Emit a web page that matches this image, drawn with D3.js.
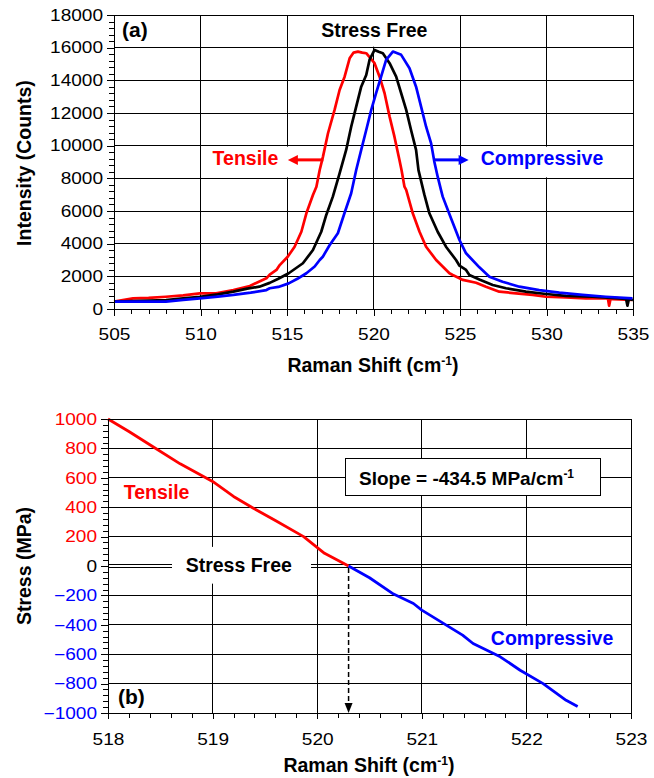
<!DOCTYPE html>
<html><head><meta charset="utf-8">
<script src="https://cdn.jsdelivr.net/npm/d3@7"></script>
<style>
body{margin:0;background:#fff;}
svg{display:block;font-family:"Liberation Sans",Arial,Helvetica,sans-serif;}
</style></head><body>
<svg id="chart" width="654" height="778"></svg>
<script>
// ---------------- DATA ----------------
// Panel (a): Raman spectra
const tensileShift = [505.0,506.1,507.0,508.0,509.0,509.96,510.9,511.9,512.85,513.81,514.0,514.39,514.58,515.04,515.44,515.83,516.12,516.5,516.7,516.89,517.08,517.37,517.75,518.04,518.33,518.62,518.85,519.1,519.35,519.58,520.06,520.35,520.64,520.93,521.21,521.5,521.62,521.79,521.89,522.27,522.66,523.04,523.62,524.39,524.58,524.97,525.16,525.93,526.5,527.27,528.24,529.2,529.97,531.12,532.28,533.43,533.55,533.62,533.7,533.81,534.97];
const tensileIntensity = [450,650,680,750,830,960,960,1160,1410,1880,2100,2390,2690,3200,3815,4730,5860,6980,7490,8510,9330,10760,12190,13410,14225,15350,15700,15760,15700,15660,15050,14225,13210,11780,10550,9120,8510,7490,7290,5860,4730,3815,3000,2190,2080,1880,1780,1610,1365,1060,960,860,750,715,650,650,640,200,620,610,550];

const freeShift = [505.0,506.5,508.0,509.0,509.96,511.0,511.9,512.7,513.4,514.0,514.5,515.1,515.92,516.5,516.98,517.27,517.65,518.04,518.42,518.71,519.0,519.29,519.58,519.77,520.06,520.3,520.54,520.93,521.31,521.6,521.89,522.17,522.46,522.6,522.94,523.23,523.71,524.19,524.77,524.97,525.35,525.54,526.12,526.89,527.66,528.81,529.97,531.12,532.66,534.2,534.6,534.68,534.76,535.0];
const freeIntensity = [450,500,550,650,750,900,1060,1250,1365,1600,1850,2190,2800,3610,4730,5760,6880,8300,9740,11160,12390,13610,14330,15250,15860,15750,15660,15050,14225,13210,12190,10960,9740,8500,7000,5860,4730,3815,3000,2650,2390,2080,1800,1470,1270,1060,920,800,750,650,620,200,600,550];

const compressiveShift = [505.0,506.5,508.0,509.0,509.96,511.0,511.9,512.9,513.81,514.0,514.5,515.1,515.6,516.12,516.6,516.89,517.07,517.46,517.94,518.32,518.71,519.0,519.29,519.58,519.87,520.15,520.44,520.73,521.12,521.6,522.08,522.46,522.75,523.04,523.33,523.52,523.71,523.9,524.0,524.48,524.97,525.35,525.54,526.12,526.7,527.46,528.43,529.58,530.74,532.08,533.43,534.97];
const compressiveIntensity = [450,450,450,560,650,760,860,1000,1160,1270,1350,1570,1850,2190,2600,3000,3200,3900,4640,5860,7085,8510,9740,10960,12190,13210,14225,15250,15760,15560,14740,13610,12390,11160,10140,9000,8100,7290,6880,5550,4225,3410,3200,2550,1980,1670,1365,1160,1000,860,750,650];

const shiftTicksA = [505,510,515,520,525,530,535];
const intensityTicks = [0,2000,4000,6000,8000,10000,12000,14000,16000,18000];

// Panel (b): stress vs Raman shift
const tensileLineShift = [518.0,518.2,518.4,518.69,519.0,519.2,519.39,519.6,519.87,520.07,520.3];
const tensileLineStress = [1000,915,825,695,575,473,393,309,200,86,0];
const compressiveLineShift = [520.3,520.5,520.73,520.92,521.0,521.39,521.49,521.75,521.94,522.16,522.38,522.49];
const compressiveLineStress = [0,-80,-191,-255,-300,-470,-527,-618,-709,-800,-914,-955];

const shiftTicksB = [518,519,520,521,522,523];
const stressTicks = [-1000,-800,-600,-400,-200,0,200,400,600,800,1000];
const stressFreeShift = 520.3;
const slopeText = "Slope = -434.5 MPa/cm";

// ---------------- DRAW ----------------
const RED = "#ff0000", BLUE = "#0000ff", BLACK = "#000";
const SX = 1.17;          // horizontal stretch of tick labels
const TICKFONT = 16.3;
const BOLD = 19.5;
const svg = d3.select("#chart");
svg.append("rect").attr("width",654).attr("height",778).attr("fill","#fff");

function zip(xs, ys){ return xs.map((x,i)=>[x, ys[i]]); }
function minorRange(a,b,step,majors){
  const out=[]; for(let v=a; v<=b+1e-9; v+=step){ const r=Math.round(v*1000)/1000; if(!majors.some(m=>Math.abs(m-r)<1e-6)) out.push(r);} return out;
}
function cleanAxis(g){
  g.select(".domain").remove();
  g.selectAll("line").attr("stroke",BLACK).attr("stroke-width",1).attr("shape-rendering","crispEdges");
  g.selectAll("text").attr("font-size",TICKFONT).attr("fill",BLACK).attr("font-family",'"Liberation Sans",Arial,sans-serif');
}
function arrowH(g, x1, x2, y, color){
  const dir = Math.sign(x2-x1), head = 10, hw = 5;
  g.append("line").attr("x1",x1).attr("x2",x2-dir*head+dir*1).attr("y1",y).attr("y2",y)
    .attr("stroke",color).attr("stroke-width",3);
  g.append("path").attr("d",`M${x2},${y} L${x2-dir*head},${y-hw} L${x2-dir*head},${y+hw} Z`).attr("fill",color);
}
function titleWithSup(g, x, y, main, sup, tail, size){
  const t = g.append("text").attr("x",x).attr("y",y).attr("text-anchor","middle")
    .attr("font-weight","bold").attr("font-size",size).attr("fill",BLACK);
  t.append("tspan").text(main);
  t.append("tspan").attr("dy",-7).attr("font-size",size*0.62).text(sup);
  t.append("tspan").attr("dy",7).text(tail);
  return t;
}

// ===== Panel (a) =====
const xA = d3.scaleLinear().domain([505,535]).range([114,633]);
const yA = d3.scaleLinear().domain([0,18000]).range([309,15]);
const gA = svg.append("g");

gA.append("g").attr("shape-rendering","crispEdges").selectAll("line").data(shiftTicksA).join("line")
  .attr("x1",d=>xA(d)).attr("x2",d=>xA(d)).attr("y1",yA(0)).attr("y2",yA(18000))
  .attr("stroke",BLACK).attr("stroke-width",1);
gA.append("g").attr("shape-rendering","crispEdges").selectAll("line").data(intensityTicks).join("line")
  .attr("x1",xA(505)).attr("x2",xA(535)).attr("y1",d=>yA(d)).attr("y2",d=>yA(d))
  .attr("stroke",BLACK).attr("stroke-width",1);

// label boxes (white)
gA.append("rect").attr("x",xA(515)+1).attr("y",yA(18000)+1).attr("width",xA(525)-xA(515)-2).attr("height",yA(16000)-yA(18000)-2).attr("fill","#fff");
gA.append("rect").attr("x",xA(510.3)).attr("y",yA(10000)+1).attr("width",xA(515.3)-xA(510.3)).attr("height",yA(8000)-yA(10000)-2).attr("fill","#fff");
gA.append("rect").attr("x",xA(525.4)).attr("y",yA(10000)+1).attr("width",xA(534.5)-xA(525.4)).attr("height",yA(8000)-yA(10000)-2).attr("fill","#fff");

// axes
const axA_x = gA.append("g").attr("transform",`translate(0,${yA(0)})`)
  .call(d3.axisBottom(xA).tickValues(shiftTicksA).tickSize(7).tickPadding(12).tickFormat(d3.format("d"))).call(cleanAxis);
axA_x.selectAll("text").attr("transform",`scale(${SX},1)`);
gA.append("g").attr("transform",`translate(0,${yA(0)})`)
  .call(d3.axisBottom(xA).tickValues(minorRange(505,535,1,shiftTicksA)).tickSize(5).tickFormat("")).call(cleanAxis);
const axA_y = gA.append("g").attr("transform",`translate(${xA(505)},0)`)
  .call(d3.axisLeft(yA).tickValues(intensityTicks).tickSize(7).tickPadding(4).tickFormat(d3.format("d"))).call(cleanAxis);
axA_y.selectAll("text").attr("x",-11/SX).attr("transform",`scale(${SX},1)`);
gA.append("g").attr("transform",`translate(${xA(505)},0)`)
  .call(d3.axisLeft(yA).tickValues(minorRange(0,18000,400,intensityTicks)).tickSize(5).tickFormat("")).call(cleanAxis);

// curves
const lineA = d3.line().x(d=>xA(d[0])).y(d=>yA(d[1]));
[[tensileShift,tensileIntensity,RED],[freeShift,freeIntensity,BLACK],[compressiveShift,compressiveIntensity,BLUE]].forEach(([xs,ys,c])=>{
  gA.append("path").datum(zip(xs,ys)).attr("d",lineA).attr("fill","none")
    .attr("stroke",c).attr("stroke-width",2.7).attr("stroke-linejoin","round");
});

// border
gA.append("rect").attr("x",xA(505)).attr("y",yA(18000)).attr("width",xA(535)-xA(505)).attr("height",yA(0)-yA(18000))
  .attr("fill","none").attr("stroke",BLACK).attr("stroke-width",1).attr("shape-rendering","crispEdges");

// annotations
gA.append("text").attr("x",122).attr("y",37).attr("font-size",21).attr("font-weight","bold").attr("fill",BLACK).text("(a)");
gA.append("text").attr("x",xA(520.05)).attr("y",yA(16650)).attr("text-anchor","middle").attr("font-size",BOLD).attr("font-weight","bold").attr("fill",BLACK).text("Stress Free");
gA.append("text").attr("x",xA(514.5)).attr("y",yA(8810)).attr("text-anchor","end").attr("font-size",BOLD).attr("font-weight","bold").attr("fill",RED).text("Tensile");
arrowH(gA, xA(517.1), xA(515.05), yA(9130), RED);
gA.append("text").attr("x",xA(526.2)).attr("y",yA(8810)).attr("text-anchor","start").attr("font-size",BOLD).attr("font-weight","bold").attr("fill",BLUE).text("Compressive");
arrowH(gA, xA(523.45), xA(525.5), yA(9130), BLUE);

titleWithSup(gA, 373, 372, "Raman Shift (cm", "-1", ")", BOLD);
gA.append("text").attr("transform","translate(30.5,163) rotate(-90)").attr("text-anchor","middle")
  .attr("font-size",BOLD).attr("font-weight","bold").attr("fill",BLACK).text("Intensity (Counts)");

// ===== Panel (b) =====
const xB = d3.scaleLinear().domain([518,523]).range([108,631]);
const yB = d3.scaleLinear().domain([-1000,1000]).range([713,419]);
const gB = svg.append("g");

gB.append("g").attr("shape-rendering","crispEdges").selectAll("line").data(shiftTicksB).join("line")
  .attr("x1",d=>xB(d)).attr("x2",d=>xB(d)).attr("y1",yB(-1000)).attr("y2",yB(1000))
  .attr("stroke",BLACK).attr("stroke-width",1);
gB.append("g").attr("shape-rendering","crispEdges").selectAll("line").data(stressTicks.filter(d=>d!==0)).join("line")
  .attr("x1",xB(518)).attr("x2",xB(523)).attr("y1",d=>yB(d)).attr("y2",d=>yB(d))
  .attr("stroke",BLACK).attr("stroke-width",1);

// white label boxes
gB.append("rect").attr("x",xB(518.61)).attr("y",yB(130)).attr("width",xB(519.94)-xB(518.61)).attr("height",yB(-120)-yB(130)).attr("fill","#fff");
gB.append("rect").attr("x",xB(521.54)).attr("y",yB(-400)+1).attr("width",xB(523)-xB(521.54)-1).attr("height",yB(-600)-yB(-400)-2).attr("fill","#fff");

// double zero line (stress free)
[[518,518.61],[519.94,523]].forEach(([a,b])=>{
  [-1.5,1.5].forEach(off=>{
    gB.append("line").attr("x1",xB(a)).attr("x2",xB(b)).attr("y1",yB(0)+off).attr("y2",yB(0)+off)
      .attr("stroke",BLACK).attr("stroke-width",1).attr("shape-rendering","crispEdges");
  });
});

// axes
const axB_x = gB.append("g").attr("transform",`translate(0,${yB(-1000)})`)
  .call(d3.axisBottom(xB).tickValues(shiftTicksB).tickSize(6).tickPadding(14).tickFormat(d3.format("d"))).call(cleanAxis);
axB_x.selectAll("text").attr("transform",`scale(${SX},1)`);
gB.append("g").attr("transform",`translate(0,${yB(-1000)})`)
  .call(d3.axisBottom(xB).tickValues(minorRange(518,523,0.2,shiftTicksB)).tickSize(5).tickFormat("")).call(cleanAxis);
const axB_y = gB.append("g").attr("transform",`translate(${xB(518)},0)`)
  .call(d3.axisLeft(yB).tickValues(stressTicks).tickSize(7).tickPadding(4).tickFormat(d3.format("d"))).call(cleanAxis);
axB_y.selectAll("text").attr("x",-11/SX).attr("transform",`scale(${SX},1)`)
  .attr("fill",d=>d>0?RED:(d<0?BLUE:BLACK));
gB.append("g").attr("transform",`translate(${xB(518)},0)`)
  .call(d3.axisLeft(yB).tickValues(minorRange(-1000,1000,40,stressTicks)).tickSize(5).tickFormat("")).call(cleanAxis);

// dashed arrow from stress-free point to axis
gB.append("line").attr("x1",xB(stressFreeShift)).attr("x2",xB(stressFreeShift)).attr("y1",yB(0)+2).attr("y2",yB(-1000)-9)
  .attr("stroke",BLACK).attr("stroke-width",1.5).attr("stroke-dasharray","5,3");
gB.append("path").attr("d",`M${xB(stressFreeShift)},${yB(-1000)} l-4,-10 l8,0 Z`).attr("fill",BLACK);

// lines
const lineB = d3.line().x(d=>xB(d[0])).y(d=>yB(d[1]));
gB.append("path").datum(zip(tensileLineShift,tensileLineStress)).attr("d",lineB).attr("fill","none")
  .attr("stroke",RED).attr("stroke-width",2.8).attr("stroke-linejoin","round");
gB.append("path").datum(zip(compressiveLineShift,compressiveLineStress)).attr("d",lineB).attr("fill","none")
  .attr("stroke",BLUE).attr("stroke-width",2.8).attr("stroke-linejoin","round");

// border
gB.append("rect").attr("x",xB(518)).attr("y",yB(1000)).attr("width",xB(523)-xB(518)).attr("height",yB(-1000)-yB(1000))
  .attr("fill","none").attr("stroke",BLACK).attr("stroke-width",1).attr("shape-rendering","crispEdges");

// slope box
gB.append("rect").attr("x",xB(520.27)).attr("y",yB(728)).attr("width",xB(522.71)-xB(520.27)).attr("height",yB(477)-yB(728))
  .attr("fill","#fff").attr("stroke",BLACK).attr("stroke-width",1).attr("shape-rendering","crispEdges");
const st = gB.append("text").attr("x",xB(520.4)).attr("y",yB(552)).attr("font-size",BOLD-0.5).attr("font-weight","bold").attr("fill",BLACK);
st.append("tspan").text(slopeText);
st.append("tspan").attr("dy",-7).attr("font-size",12).text("-1");

// annotations
gB.append("text").attr("x",118).attr("y",704).attr("font-size",21).attr("font-weight","bold").attr("fill",BLACK).text("(b)");
gB.append("text").attr("x",xB(518.15)).attr("y",yB(456)).attr("font-size",BOLD).attr("font-weight","bold").attr("fill",RED).text("Tensile");
gB.append("text").attr("x",xB(521.66)).attr("y",yB(-539)).attr("font-size",BOLD).attr("font-weight","bold").attr("fill",BLUE).text("Compressive");
gB.append("text").attr("x",xB(519.25)).attr("y",yB(-39)).attr("text-anchor","middle").attr("font-size",BOLD).attr("font-weight","bold").attr("fill",BLACK).text("Stress Free");

titleWithSup(gB, 369, 772, "Raman Shift (cm", "-1", ")", BOLD);
gB.append("text").attr("transform",`translate(30.5,${yB(0)}) rotate(-90)`).attr("text-anchor","middle")
  .attr("font-size",BOLD).attr("font-weight","bold").attr("fill",BLACK).text("Stress (MPa)");
</script>
</body></html>
